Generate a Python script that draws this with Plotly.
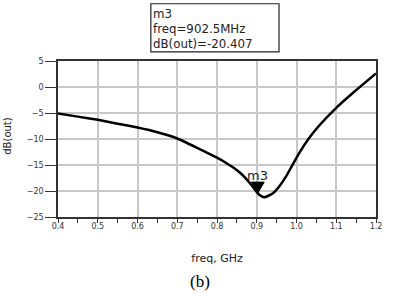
import plotly.graph_objects as go

freq_ghz = [0.40, 0.45, 0.50, 0.55, 0.60, 0.65, 0.70, 0.75, 0.80, 0.825, 0.841,
            0.858, 0.874, 0.886, 0.9025, 0.907, 0.919, 0.940, 0.956, 0.973, 0.989,
            1.006, 1.03, 1.055, 1.10, 1.138, 1.20]
db_out = [-5.1, -5.7, -6.3, -7.05, -7.8, -8.7, -9.9, -11.7, -13.6, -14.7, -15.5,
          -16.5, -17.7, -18.8, -20.407, -20.75, -21.2, -20.5, -19.2, -17.3, -15.1,
          -12.8, -10.0, -7.6, -4.0, -1.4, 2.6]

marker_name = "m3"
marker_freq = 0.9025
marker_db = -20.407
marker_lines = ["m3", "freq=902.5MHz", "dB(out)=-20.407"]

x_ticks = [0.4, 0.5, 0.6, 0.7, 0.8, 0.9, 1.0, 1.1, 1.2]
x_ticklabels = ["0.4", "0.5", "0.6", "0.7", "0.8", "0.9", "1.0", "1.1", "1.2"]
y_ticks = [5, 0, -5, -10, -15, -20, -25]

fig = go.Figure()
fig.add_trace(go.Scatter(x=freq_ghz, y=db_out, mode="lines",
                         line=dict(color="black", width=2.5, shape="spline", smoothing=0.5),
                         showlegend=False, hoverinfo="skip"))

tickfont = dict(family="DejaVu Sans", size=8, color="#333")
fig.update_xaxes(range=[0.4, 1.2], tickvals=x_ticks, ticktext=x_ticklabels,
                 ticks="outside", ticklen=4, tickcolor="#333", tickwidth=1.2,
                 minor=dict(dtick=0.05, tick0=0.4, ticks="outside", ticklen=4,
                            tickcolor="#333", tickwidth=1.2, showgrid=False),
                 showgrid=True, gridcolor="#c8c8c8", gridwidth=1.5,
                 showline=True, mirror=True, linecolor="#333", linewidth=1.5,
                 zeroline=False, tickfont=tickfont, ticklabelstandoff=-3,
                 title=dict(text="freq, GHz", font=dict(family="DejaVu Sans", size=11, color="#222"),
                            standoff=24))
fig.update_yaxes(range=[-25, 5], tickvals=y_ticks,
                 ticks="outside", ticklen=11, tickcolor="#333", tickwidth=1.2,
                 showgrid=True, gridcolor="#c8c8c8", gridwidth=1.5,
                 showline=True, mirror=True, linecolor="#333", linewidth=1.5,
                 zeroline=False, tickfont=tickfont)

fig.add_annotation(x=-0.157, y=0.515, xref="paper", yref="paper", xanchor="center", yanchor="middle",
                   text="dB(out)", textangle=-90, showarrow=False,
                   font=dict(family="DejaVu Sans", size=10, color="#222"))

# marker triangle (tip on the data point) and its label
fig.add_shape(type="path", xref="x", yref="y", xsizemode="pixel", ysizemode="pixel",
              xanchor=marker_freq, yanchor=marker_db,
              path="M -6.5,11 L 6.5,11 L 0,0 Z", fillcolor="black", line=dict(color="black", width=1))
fig.add_annotation(x=marker_freq, y=marker_db, xref="x", yref="y", text=marker_name,
                   showarrow=False, yshift=18, xshift=0,
                   font=dict(family="DejaVu Sans", size=13, color="#222"))

# marker readout box
fig.add_shape(type="rect", xref="paper", yref="paper", x0=0.292, x1=0.695, y0=1.058, y1=1.367,
              line=dict(color="#222", width=1.2), fillcolor="white", layer="above")
for txt, yy in zip(marker_lines, [1.300, 1.203, 1.106]):
    fig.add_annotation(x=0.297, y=yy, xref="paper", yref="paper", xanchor="left", yanchor="middle",
                       text=txt, showarrow=False, borderpad=0,
                       font=dict(family="DejaVu Sans", size=11.8, color="#222"))

fig.add_annotation(x=0.445, y=0, xref="paper", yref="paper", xanchor="center", yanchor="middle",
                   yshift=-64, text="(b)", showarrow=False,
                   font=dict(family="Liberation Serif", size=17, color="black"))

fig.update_layout(width=394, height=296, margin=dict(l=58, r=12, t=61, b=79),
                  paper_bgcolor="white", plot_bgcolor="white")
fig.write_html("out.html")
